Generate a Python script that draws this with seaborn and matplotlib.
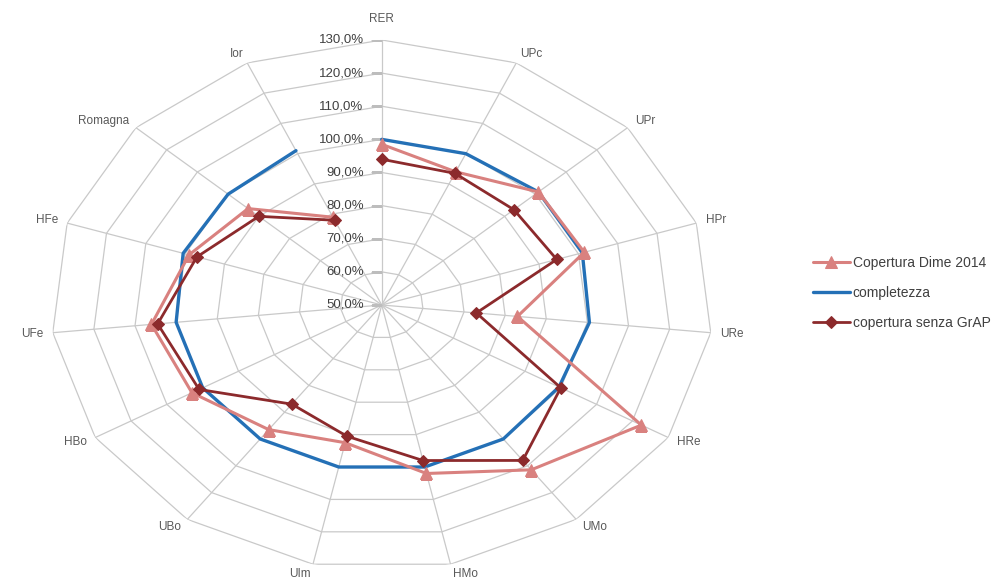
import numpy as np
import pandas as pd
import matplotlib
matplotlib.use("Agg")
import matplotlib.pyplot as plt
import seaborn as sns

# radar categories (clockwise from the top)
categories = ["RER", "UPc", "UPr", "HPr", "URe", "HRe", "UMo", "HMo",
              "UIm", "UBo", "HBo", "UFe", "HFe", "Romagna", "Ior"]

# series values (fractions)
copertura_dime = [0.985, 0.94, 1.01, 1.015, 0.83, 1.225, 1.115, 1.02,
                  0.925, 0.965, 1.03, 1.06, 0.99, 0.935, 0.79]
completezza = [1.0, 1.0, 1.01, 1.01, 1.005, 0.995, 1.0, 1.0,
               1.0, 1.0, 1.0, 1.0, 1.005, 1.0, 1.01]
copertura_senza = [0.94, 0.935, 0.93, 0.945, 0.73, 1.0, 1.08, 0.98,
                   0.905, 0.87, 1.01, 1.045, 0.97, 0.90, 0.78]

ring_values = [0.5, 0.6, 0.7, 0.8, 0.9, 1.0, 1.1, 1.2, 1.3]
ring_labels = ["50,0%", "60,0%", "70,0%", "80,0%", "90,0%",
               "100,0%", "110,0%", "120,0%", "130,0%"]

sns.set_style("white")
plt.rcParams['font.family'] = ['Liberation Sans', 'DejaVu Sans']

n = len(categories)
angles = np.linspace(0, 2 * np.pi, n, endpoint=False)
closed = np.append(angles, angles[0])

def close(vals):
    return np.append(vals, vals[0])

fig = plt.figure(figsize=(10.07, 5.82), dpi=100)
ax = fig.add_axes([0.0506, 0.0206, 0.657, 0.9107], projection='polar')
ax.set_aspect('auto')   # the reference is stretched sideways
ax.set_theta_zero_location('N')
ax.set_theta_direction(-1)
ax.set_ylim(ring_values[0], ring_values[-1])
ax.grid(False)
ax.spines['polar'].set_visible(False)
ax.set_xticks([])
ax.set_yticks([])

grid_c = '#c9c9c9'
# polygon rings
for r in ring_values[1:]:
    ax.plot(closed, [r] * (n + 1), color=grid_c, lw=0.9, zorder=1)
# spokes
for a in angles:
    ax.plot([a, a], [ring_values[0], ring_values[-1]], color=grid_c, lw=0.9, zorder=1)
# small tick marks on the value axis
ax.plot(np.zeros(len(ring_values)), ring_values, linestyle='none', marker=0,
        markersize=8, markeredgewidth=0.8, color='#bdbdbd', zorder=1)

# radial tick labels along the RER spoke
for r, lab in zip(ring_values, ring_labels):
    ax.annotate(lab, xy=(0, r), xytext=(-13, 0), textcoords='offset points',
                ha='right', va='center', fontsize=9.5, color='#404040')

# category labels outside the outer ring
for a, cat in zip(angles, categories):
    s, c = np.sin(a), np.cos(a)
    ha = 'center' if abs(s) < 0.2 else ('left' if s > 0 else 'right')
    d = 15 if (abs(s) < 0.2 and c > 0) else 7
    ax.annotate(cat, xy=(a, ring_values[-1]), xytext=(s * d, c * d),
                textcoords='offset points', ha=ha, va='center',
                fontsize=8.5, color='#595959', annotation_clip=False)

pink = '#d9817f'
blue = '#2470b6'
dark = '#8c2a2c'

sns.lineplot(x=closed, y=close(copertura_dime), sort=False, ax=ax, color=pink,
             lw=2.2, marker='^', markersize=8, markeredgecolor=pink,
             label='Copertura Dime 2014', zorder=3)
sns.lineplot(x=closed, y=close(completezza), sort=False, ax=ax, color=blue,
             lw=2.4, label='completezza', zorder=2)
sns.lineplot(x=closed, y=close(copertura_senza), sort=False, ax=ax, color=dark,
             lw=2.0, marker='D', markersize=6, markeredgecolor=dark,
             label='copertura senza GrAP', zorder=4)

handles, labels = ax.get_legend_handles_labels()
ax.get_legend().remove()
fig.legend(handles, labels, loc='center left', bbox_to_anchor=(0.80, 0.497),
           frameon=False, fontsize=10, borderpad=0, handlelength=2.7,
           handletextpad=0.2, labelspacing=1.15, labelcolor='#404040')

fig.savefig('out.png', dpi=100)
